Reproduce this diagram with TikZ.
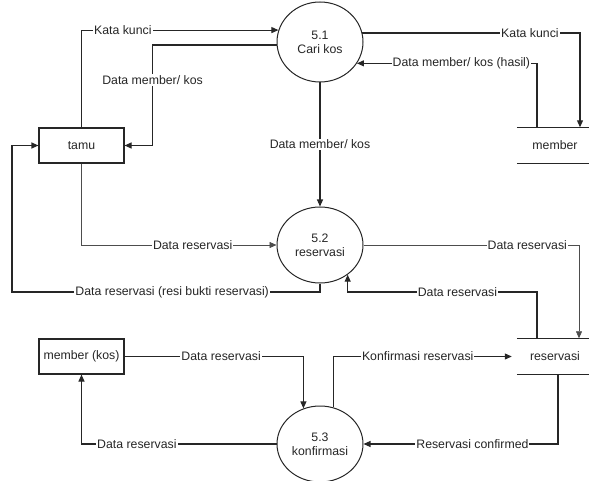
\documentclass[tikz,border=0pt]{standalone}
\usepackage{fontspec}
\setmainfont{Liberation Sans}
\usetikzlibrary{arrows.meta,shapes.geometric}
\definecolor{ink}{HTML}{262626}
\definecolor{soft}{HTML}{4D4D4D}
\tikzset{
  flow/.style={draw=ink, line width=1.1pt, -{Triangle[length=7pt,width=6pt]}},
  thinflow/.style={flow, draw=soft, line width=0.6pt},
  line/.style={draw=ink, line width=1.1pt},
  proc/.style={ellipse, draw=ink, line width=1pt, minimum width=86pt, minimum height=76pt, inner sep=0pt, align=center},
  ent/.style={rectangle, draw=ink, line width=1.1pt, minimum width=85pt, minimum height=35pt, inner sep=2pt},
  store/.style={minimum width=76pt, minimum height=36pt, inner sep=0pt},
  lbl/.style={fill=white, inner sep=1pt},
  every node/.style={font=\fontsize{12.3}{14}\selectfont, text=ink}
}

\begin{document}
\begin{tikzpicture}[x=1pt,y=-1pt]
  \useasboundingbox (0,0) rectangle (589,481);
  % proses
  \node[proc, minimum height=80pt] (cari) at (320,42) {5.1\\Cari kos};
  \node[proc] (resv) at (320,245) {5.2\\reservasi};
  \node[proc] (konf) at (320,444) {5.3\\konfirmasi};
  % entitas luar
  \node[ent] (tamu) at (81.5,145.5) {tamu};
  \node[ent] (mkos) at (81.5,356.5) {member (kos)};
  % data store
  \node[store] (dsmem) at (555,145.5) {member};
  \node[store] (dsres) at (555,356.5) {reservasi};
  \foreach \s in {dsmem,dsres}
    \draw[line] (\s.north west) -- (\s.north east) (\s.south west) -- (\s.south east);
  \coordinate (lp) at (12,292);

  % aliran data
  \draw[flow] (tamu.north) |- node[lbl,pos=0.605] {Kata kunci} (cari.164);
  \draw[flow] (cari.184) -| node[lbl,pos=0.674] {Data member/ kos} ([xshift=28pt]tamu.east) -- (tamu.east);
  \draw[flow] (cari.12) -| node[lbl,pos=0.385] {Kata kunci} ([xshift=25pt]dsmem.north);
  \draw[flow] ([xshift=-18pt]dsmem.north) |- node[lbl,pos=0.71] {Data member/ kos (hasil)} (cari.330);
  \draw[flow] (cari) -- node[lbl] {Data member/ kos} (resv);
  \draw[thinflow] (tamu.south) |- node[lbl,pos=0.785] {Data reservasi} (resv.west);
  \draw[flow] (resv.south) |- node[lbl,pos=0.74] {Data reservasi (resi bukti reservasi)} (lp) |- (tamu.west);
  \draw[thinflow] (resv.east) -| node[lbl,pos=0.38] {Data reservasi} ([xshift=24pt]dsres.north);
  \draw[flow] ([xshift=-18pt]dsres.north) |- node[lbl,pos=0.71] {Data reservasi} (resv.313 |- lp) -- (resv.313);
  \draw[flow] (mkos.east) -| node[lbl,pos=0.27] {Data reservasi} (konf.115);
  \draw[flow, shorten >=5pt] (konf.70) |- node[lbl,pos=0.73] {Konfirmasi reservasi} (dsres.west);
  \draw[flow] ([xshift=3pt]dsres.south) |- node[lbl,pos=0.72] {Reservasi confirmed} (konf.east);
  \draw[flow] (konf.west) -| node[lbl,pos=0.358] {Data reservasi} (mkos.south);
\end{tikzpicture}
\end{document}
